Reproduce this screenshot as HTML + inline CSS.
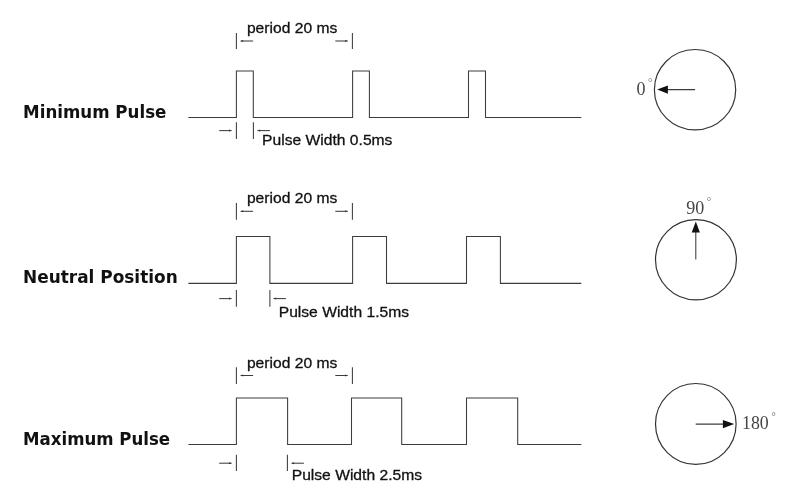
<!DOCTYPE html>
<html><head><meta charset="utf-8"><title>Servo pulse</title>
<style>
html,body{margin:0;padding:0;background:#fff;}
svg{display:block;filter:grayscale(1)}
.l{fill:none;stroke:#3c3c3c;stroke-width:1.05}
.t{font-family:"Liberation Sans",sans-serif;font-size:15.0px;fill:#111;stroke:#111;stroke-width:0.3px}
.b{font-family:"DejaVu Sans","Liberation Sans",sans-serif;font-weight:bold;font-size:18.3px;fill:#111}
.s{font-family:"Liberation Serif",serif;font-size:18px;fill:#444}
.c{fill:none;stroke:#333;stroke-width:1.2}
.a{fill:#111}
.dg{font-size:11px;fill:#666}
.h{fill:#333}
</style></head><body>
<svg width="798" height="500" viewBox="0 0 798 500">

<path class="l" d="M188.4 117.5 H236.4 V71.0 H253.3 V117.5 H352.6 V71.0 H369.4 V117.5 H468.5 V71.0 H485.5 V117.5 H581.3"/>
<text class="b" x="23.1" y="117.6" textLength="143.3" lengthAdjust="spacingAndGlyphs">Minimum Pulse</text>
<text class="t" transform="translate(246.9 32.85) scale(1.043 1)">period 20 ms</text>
<path class="l" d="M236.4 33 V49 M352.4 33 V49"/>
<path class="l" d="M253.1 41.0 H240.6"/><path class="h" d="M240.6 41.0 L243.2 40.0 V42.0 Z"/>
<path class="l" d="M335.3 41.0 H347.7"/><path class="h" d="M347.7 41.0 L345.1 40.0 V42.0 Z"/>
<path class="l" d="M236.4 122.3 V138.9 M253.4 122.3 V138.9"/>
<path class="l" d="M219.2 130.6 H231.6"/><path class="h" d="M231.6 130.6 L229.0 129.6 V131.6 Z"/>
<path class="l" d="M269.9 130.6 H257.5"/><path class="h" d="M257.5 130.6 L260.1 129.6 V131.6 Z"/>
<text class="t" transform="translate(262.1 145.2) scale(1.043 1)">Pulse Width 0.5ms</text>
<path class="l" d="M188.4 283.35 H236.4 V236.55 H269.9 V283.35 H352.6 V236.55 H386.5 V283.35 H466.5 V236.55 H500.4 V283.35 H581.3"/>
<text class="b" x="23.1" y="282.6" textLength="154.6" lengthAdjust="spacingAndGlyphs">Neutral Position</text>
<text class="t" transform="translate(246.9 203.3) scale(1.043 1)">period 20 ms</text>
<path class="l" d="M236.4 203 V219.8 M352.4 203 V219.8"/>
<path class="l" d="M253.1 211.3 H240.6"/><path class="h" d="M240.6 211.3 L243.2 210.3 V212.3 Z"/>
<path class="l" d="M335.3 211.3 H347.7"/><path class="h" d="M347.7 211.3 L345.1 210.3 V212.3 Z"/>
<path class="l" d="M236.4 290 V306.8 M269.9 290 V306.8"/>
<path class="l" d="M219.2 298.6 H231.6"/><path class="h" d="M231.6 298.6 L229.0 297.6 V299.6 Z"/>
<path class="l" d="M285.9 298.6 H273.5"/><path class="h" d="M273.5 298.6 L276.1 297.6 V299.6 Z"/>
<text class="t" transform="translate(278.7 316.9) scale(1.043 1)">Pulse Width 1.5ms</text>
<path class="l" d="M188.4 444.45 H236.4 V398.0 H287.6 V444.45 H351.5 V398.0 H401.7 V444.45 H466.5 V398.0 H517.7 V444.45 H581.3"/>
<text class="b" x="23.1" y="445" textLength="147.0" lengthAdjust="spacingAndGlyphs">Maximum Pulse</text>
<text class="t" transform="translate(246.9 367.8) scale(1.043 1)">period 20 ms</text>
<path class="l" d="M236.4 367.3 V383.9 M352.4 367.3 V383.9"/>
<path class="l" d="M253.1 375.5 H240.6"/><path class="h" d="M240.6 375.5 L243.2 374.5 V376.5 Z"/>
<path class="l" d="M335.3 375.5 H347.7"/><path class="h" d="M347.7 375.5 L345.1 374.5 V376.5 Z"/>
<path class="l" d="M236.4 454.7 V471.1 M287.4 454.7 V471.1"/>
<path class="l" d="M219.2 463.2 H231.6"/><path class="h" d="M231.6 463.2 L229.0 462.2 V464.2 Z"/>
<path class="l" d="M303.9 463.2 H291.5"/><path class="h" d="M291.5 463.2 L294.1 462.2 V464.2 Z"/>
<text class="t" transform="translate(291.7 480.3) scale(1.043 1)">Pulse Width 2.5ms</text>
<ellipse class="c" cx="695.05" cy="89.7" rx="40.65" ry="40.2"/>
<path class="l" d="M695.1 89.6 H660"/><path class="a" d="M657.2 89.6 L667.9 85.4 V93.8 Z"/>
<text class="s" transform="translate(636.4 94.7) scale(1.0 1)">0<tspan class="dg" x="11.5" y="-8.7">°</tspan></text>
<ellipse class="c" cx="695.95" cy="259.8" rx="40.45" ry="40.1"/>
<path class="l" d="M695.8 259.6 V230"/><path class="a" d="M695.8 221.5 L699.9 232.5 H691.7 Z"/>
<text class="s" transform="translate(686.2 213.8) scale(1.0 1)">90<tspan class="dg" x="20.5" y="-8.8">°</tspan></text>
<ellipse class="c" cx="695.8" cy="423.95" rx="40.3" ry="40.45"/>
<path class="l" d="M695.7 424.1 H730"/><path class="a" d="M734.2 424.1 L722.9 419.9 V428.3 Z"/>
<text class="s" transform="translate(742.0 428.6) scale(0.99 1)">180<tspan class="dg" x="29.9" y="-8.8">°</tspan></text>
</svg></body></html>
